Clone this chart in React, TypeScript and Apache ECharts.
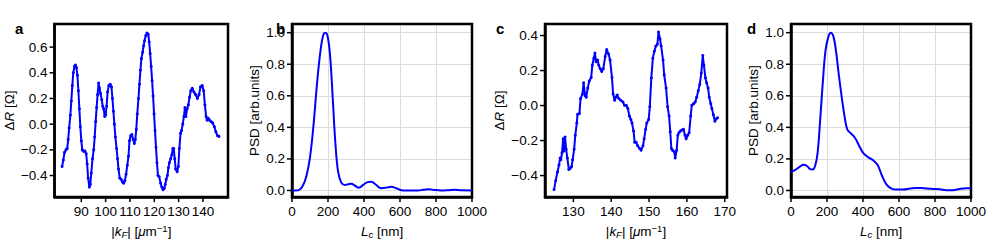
import React, { useEffect, useRef } from 'react';
import * as echarts from 'echarts';

const FONT = '"Liberation Sans", Arial, Helvetica, sans-serif';
const BLUE = '#0000ff';

// Panel a: ΔR vs |kF|
const panelA: [number, number][] = [
  [82.1, -0.33], [82.6, -0.28], [83.1, -0.22], [83.7, -0.2], [84.2, -0.19], [84.6, -0.12], [85.0, -0.03],
  [85.5, 0.07], [85.9, 0.18], [86.3, 0.3], [86.7, 0.4], [87.2, 0.45], [87.6, 0.46], [88.0, 0.44], [88.4, 0.38],
  [88.8, 0.26], [89.2, 0.12], [89.6, -0.02], [90.0, -0.13], [90.4, -0.2], [90.9, -0.21], [91.5, -0.21],
  [92.0, -0.23], [92.4, -0.31], [92.8, -0.42], [93.3, -0.49], [93.7, -0.47], [94.1, -0.38], [94.6, -0.27],
  [95.1, -0.2], [95.5, -0.1], [95.9, 0.02], [96.3, 0.13], [96.7, 0.23], [97.1, 0.32], [97.5, 0.28],
  [97.9, 0.24], [98.4, 0.19], [98.8, 0.14], [99.2, 0.12], [99.6, 0.06], [100.0, 0.07], [100.4, 0.14],
  [100.8, 0.25], [101.3, 0.3], [101.9, 0.31], [102.4, 0.29], [102.8, 0.2], [103.2, 0.1], [103.6, 0.0],
  [104.0, -0.1], [104.5, -0.19], [104.9, -0.27], [105.3, -0.35], [105.8, -0.42], [106.4, -0.43],
  [106.9, -0.45], [107.4, -0.46], [107.9, -0.44], [108.4, -0.39], [108.9, -0.32], [109.4, -0.25],
  [109.8, -0.13], [110.3, -0.09], [110.8, -0.08], [111.3, -0.12], [111.8, -0.15], [112.2, -0.12],
  [112.6, -0.04], [113.0, 0.08], [113.5, 0.2], [113.9, 0.31], [114.3, 0.42], [114.7, 0.51], [115.2, 0.56],
  [115.6, 0.61], [116.0, 0.65], [116.5, 0.69], [117.0, 0.71], [117.5, 0.7], [117.9, 0.64], [118.3, 0.55],
  [118.7, 0.45], [119.1, 0.34], [119.5, 0.22], [119.9, 0.08], [120.3, -0.05], [120.7, -0.18], [121.1, -0.3],
  [121.5, -0.4], [122.0, -0.41], [122.6, -0.46], [123.1, -0.49], [123.6, -0.51], [124.1, -0.5],
  [124.5, -0.47], [124.9, -0.43], [125.4, -0.4], [125.8, -0.34], [126.2, -0.3], [126.7, -0.27],
  [127.2, -0.24], [127.6, -0.19], [128.0, -0.19], [128.4, -0.27], [128.8, -0.35], [129.4, -0.37],
  [129.9, -0.33], [130.3, -0.19], [130.8, -0.07], [131.2, -0.05], [131.7, 0.0], [132.2, 0.06],
  [132.6, 0.13], [133.0, 0.06], [133.5, 0.12], [134.0, 0.15], [134.5, 0.21], [135.0, 0.26], [135.6, 0.28],
  [136.3, 0.25], [137.0, 0.23], [137.7, 0.2], [138.4, 0.23], [139.0, 0.29], [139.7, 0.3], [140.3, 0.26],
  [140.8, 0.15], [141.3, 0.06], [141.7, 0.03], [142.2, 0.045], [142.7, 0.03], [143.3, 0.02], [144.0, 0.01],
  [144.7, -0.02], [145.3, -0.06], [146.0, -0.09], [146.6, -0.095],
];

// Panel b: PSD vs Lc
const panelB: [number, number][] = [
  [0, 0], [20, 0], [40, 0.004], [60, 0.03], [80, 0.09], [100, 0.21], [120, 0.42], [140, 0.69], [160, 0.9],
  [175, 0.99], [187, 1.0], [200, 0.965], [213, 0.835], [228, 0.55], [241, 0.3], [256, 0.12], [274, 0.05],
  [293, 0.035], [311, 0.039], [330, 0.043], [350, 0.03], [372, 0.018], [395, 0.035], [420, 0.053],
  [440, 0.056], [465, 0.038], [495, 0.014], [525, 0.018], [552, 0.024], [580, 0.014], [607, 0.002],
  [640, 0], [700, 0], [730, 0.004], [760, 0.008], [790, 0.003], [830, 0], [870, 0.002], [900, 0.004],
  [940, 0.001], [1000, 0],
];

// Panel c: ΔR vs |kF|
const panelC: [number, number][] = [
  [124.9, -0.48], [125.3, -0.43], [125.8, -0.38], [126.2, -0.34], [126.5, -0.3], [126.7, -0.31],
  [127.0, -0.27], [127.3, -0.19], [127.5, -0.26], [127.8, -0.18], [128.1, -0.25], [128.4, -0.3],
  [128.8, -0.365], [129.1, -0.36], [129.5, -0.35], [129.8, -0.31], [130.2, -0.25], [130.5, -0.17],
  [130.9, -0.1], [131.1, -0.05], [131.6, -0.045], [131.9, 0.04], [132.4, 0.066], [132.7, 0.13],
  [133.1, 0.057], [133.4, 0.048], [133.8, 0.1], [134.2, 0.14], [134.7, 0.16], [135.0, 0.23], [135.4, 0.27],
  [135.7, 0.3], [136.0, 0.25], [136.4, 0.26], [136.7, 0.23], [137.1, 0.21], [137.5, 0.195], [137.9, 0.21],
  [138.4, 0.28], [138.8, 0.32], [139.3, 0.295], [139.7, 0.26], [140.2, 0.16], [140.5, 0.066], [140.9, 0.03],
  [141.2, 0.048], [141.6, 0.06], [142.0, 0.04], [142.5, 0.03], [143.1, 0.02], [143.5, 0.002], [144.0, 0.0],
  [144.4, -0.017], [144.8, -0.06], [145.2, -0.08], [145.5, -0.1], [145.9, -0.145], [146.2, -0.21],
  [146.6, -0.21], [147.0, -0.23], [147.5, -0.245], [147.9, -0.255], [148.4, -0.23], [148.7, -0.19],
  [149.1, -0.135], [149.4, -0.1], [149.9, -0.08], [150.2, -0.007], [150.6, 0.158], [151.0, 0.27],
  [151.4, 0.31], [151.8, 0.34], [152.2, 0.35], [152.5, 0.42], [152.9, 0.38], [153.2, 0.34], [153.7, 0.26],
  [154.0, 0.176], [154.5, 0.1], [154.9, -0.007], [155.3, -0.06], [155.6, -0.15], [155.9, -0.245],
  [156.2, -0.255], [156.7, -0.265], [156.9, -0.3], [157.3, -0.255], [157.6, -0.17], [157.9, -0.155],
  [158.3, -0.145], [158.7, -0.14], [159.1, -0.136], [159.5, -0.17], [159.8, -0.19], [160.2, -0.17],
  [160.6, -0.155], [161.0, -0.06], [161.3, 0.002], [161.8, 0.011], [162.2, 0.02], [162.6, 0.048],
  [163.0, 0.084], [163.4, 0.12], [163.8, 0.185], [164.2, 0.286], [164.5, 0.23], [164.9, 0.158],
  [165.2, 0.13], [165.6, 0.1], [165.9, 0.048], [166.3, 0.011], [166.6, -0.017], [167.0, -0.053],
  [167.4, -0.09], [167.7, -0.077], [168.1, -0.07],
];

// Panel d: PSD vs Lc
const panelD: [number, number][] = [
  [0, 0.118], [24, 0.13], [48, 0.15], [70, 0.163], [89, 0.155], [107, 0.135], [120, 0.133], [135, 0.16],
  [148, 0.24], [162, 0.445], [177, 0.69], [192, 0.89], [208, 0.975], [221, 1.0], [236, 0.975], [251, 0.875],
  [266, 0.73], [282, 0.59], [301, 0.445], [314, 0.384], [332, 0.363], [356, 0.333], [380, 0.28],
  [402, 0.237], [430, 0.21], [458, 0.19], [482, 0.16], [504, 0.098], [531, 0.037], [559, 0.012],
  [587, 0.006], [624, 0.006], [661, 0.012], [697, 0.016], [725, 0.016], [753, 0.012], [790, 0.01],
  [827, 0.008], [863, 0.002], [900, 0.002], [937, 0.01], [974, 0.014], [1000, 0.014],
];

const kfTicksA = [90, 100, 110, 120, 130, 140];
const kfTicksC = [130, 140, 150, 160, 170];
const dRTicksA = [-0.4, -0.2, 0.0, 0.2, 0.4, 0.6];
const dRTicksC = [-0.4, -0.2, 0.0, 0.2, 0.4];
const lcTicks = [0, 200, 400, 600, 800, 1000];
const psdTicks = [0.0, 0.2, 0.4, 0.6, 0.8, 1.0];
const panelLetters = ['a', 'b', 'c', 'd'];

const FS = 13.5;
const FRAME_W = 2.5;
const TICK_LEN = 5;
const minus = (s: string) => s.replace('-', '\u2212');

const richStyles = {
  i: { fontStyle: 'italic', fontSize: FS, fontFamily: FONT, color: '#000', lineHeight: 16, verticalAlign: 'middle' },
  n: { fontSize: FS, fontFamily: FONT, color: '#000', lineHeight: 16, verticalAlign: 'middle' },
  sub: { fontStyle: 'italic', fontSize: 9.5, fontFamily: FONT, color: '#000', lineHeight: 9, verticalAlign: 'bottom' },
  sup: { fontSize: 9.5, fontFamily: FONT, color: '#000', lineHeight: 9, verticalAlign: 'top' },
};

const kfName = '{n||}{i|k}{sub|F}{n|| [}{i|μ}{n|m}{sup|\u22121}{n|]}';
const lcName = '{i|L}{sub|c}{n| [nm]}';
const dRName = '{n|Δ}{i|R}{n| [Ω]}';
const psdName = '{n|PSD [arb.units]}';

function xAxis(idx: number, min: number, max: number, ticks: number[], grid: boolean, name: string) {
  return {
    type: 'value', gridIndex: idx, min, max, position: 'bottom',
    name, nameLocation: 'middle', nameGap: 20,
    nameTextStyle: { fontSize: FS, fontFamily: FONT, color: '#000', lineHeight: 16, rich: richStyles },
    axisLine: { show: true, onZero: false, lineStyle: { color: '#000', width: FRAME_W } },
    axisTick: { show: false, customValues: ticks },
    axisLabel: {
      show: true, customValues: ticks, margin: 7, fontSize: FS, fontFamily: FONT, color: '#000',
      formatter: (v: number) => minus(v.toFixed(0)),
    },
    splitLine: { show: grid, lineStyle: { color: '#dcdcdc', width: 1 } },
  };
}

function yAxis(idx: number, min: number, max: number, ticks: number[], grid: boolean, name: string, gap: number) {
  return {
    type: 'value', gridIndex: idx, min, max, position: 'left',
    name, nameLocation: 'middle', nameGap: gap,
    nameTextStyle: { fontSize: FS, fontFamily: FONT, color: '#000', lineHeight: 16, rich: richStyles },
    axisLine: { show: true, onZero: false, lineStyle: { color: '#000', width: FRAME_W } },
    axisTick: { show: false, customValues: ticks },
    axisLabel: {
      show: true, customValues: ticks, margin: 7, fontSize: FS, fontFamily: FONT, color: '#000',
      formatter: (v: number) => minus(v.toFixed(1)),
    },
    splitLine: { show: grid, lineStyle: { color: '#dcdcdc', width: 1 } },
  };
}

// tick marks as a custom series placed through the axes' own scales
function tickSeries(idx: number, dim: 'x' | 'y', values: number[], other: number) {
  return {
    type: 'custom', xAxisIndex: idx, yAxisIndex: idx, silent: true, clip: false, z: 5,
    data: values.map((v) => (dim === 'x' ? [v, other] : [other, v])),
    renderItem: (_p: any, api: any) => {
      const pt = api.coord([api.value(0), api.value(1)]);
      const shape = dim === 'x'
        ? { x1: pt[0], y1: pt[1], x2: pt[0], y2: pt[1] + TICK_LEN }
        : { x1: pt[0], y1: pt[1], x2: pt[0] - TICK_LEN, y2: pt[1] };
      return { type: 'line', shape, style: { stroke: '#000', lineWidth: 1.5 } };
    },
  };
}

export default function App() {
  const ref = useRef<HTMLDivElement>(null);
  useEffect(() => {
    if (!ref.current) return;
    const chart = echarts.init(ref.current, undefined, { renderer: 'svg' });
    const grids = [
      { left: 48, top: 24, width: 180, height: 179 },
      { left: 292, top: 24, width: 180, height: 179 },
      { left: 545, top: 24, width: 182, height: 180 },
      { left: 791, top: 24, width: 180, height: 179 },
    ].map((g) => ({ ...g, show: true, z: 3, borderColor: '#000', borderWidth: FRAME_W }));

    const xr: [number, number][] = [[79, 150.3], [0, 1000], [122.5, 170.6], [0, 1000]];
    const yr: [number, number][] = [[-0.568, 0.78], [-0.042, 1.055], [-0.523, 0.466], [-0.042, 1.055]];
    const xt = [kfTicksA, lcTicks, kfTicksC, lcTicks];
    const yt = [dRTicksA, psdTicks, dRTicksC, psdTicks];

    const letterX = [15, 276, 496, 747];
    const option = {
      animation: false,
      grid: grids,
      xAxis: [
        xAxis(0, xr[0][0], xr[0][1], kfTicksA, false, kfName),
        xAxis(1, xr[1][0], xr[1][1], lcTicks, true, lcName),
        xAxis(2, xr[2][0], xr[2][1], kfTicksC, false, kfName),
        xAxis(3, xr[3][0], xr[3][1], lcTicks, true, lcName),
      ],
      yAxis: [
        yAxis(0, yr[0][0], yr[0][1], dRTicksA, false, dRName, 31),
        yAxis(1, yr[1][0], yr[1][1], psdTicks, true, psdName, 24),
        yAxis(2, yr[2][0], yr[2][1], dRTicksC, false, dRName, 34),
        yAxis(3, yr[3][0], yr[3][1], psdTicks, true, psdName, 25),
      ],
      series: [
        ...[panelA, panelB, panelC, panelD].map((d, i) => ({
          type: 'line', xAxisIndex: i, yAxisIndex: i, data: d,
          smooth: i % 2 === 1 ? 0.4 : false,
          showSymbol: i % 2 === 0, symbol: 'circle', symbolSize: 3,
          lineStyle: { color: BLUE, width: 2 }, itemStyle: { color: BLUE },
        })),
        ...[0, 1, 2, 3].map((i) => tickSeries(i, 'x', xt[i], yr[i][0])),
        ...[0, 1, 2, 3].map((i) => tickSeries(i, 'y', yt[i], xr[i][0])),
      ],
      graphic: panelLetters.map((t, i) => ({
        type: 'text', x: letterX[i], y: 28,
        style: { text: t, fontSize: 15, fontWeight: 'bold', fontFamily: FONT, fill: '#000', verticalAlign: 'middle', align: 'left' },
      })),
    };
    chart.setOption(option as any);
    return () => chart.dispose();
  }, []);
  return <div ref={ref} style={{ position: 'absolute', left: 0, top: 0, width: 996, height: 244 }} />;
}
